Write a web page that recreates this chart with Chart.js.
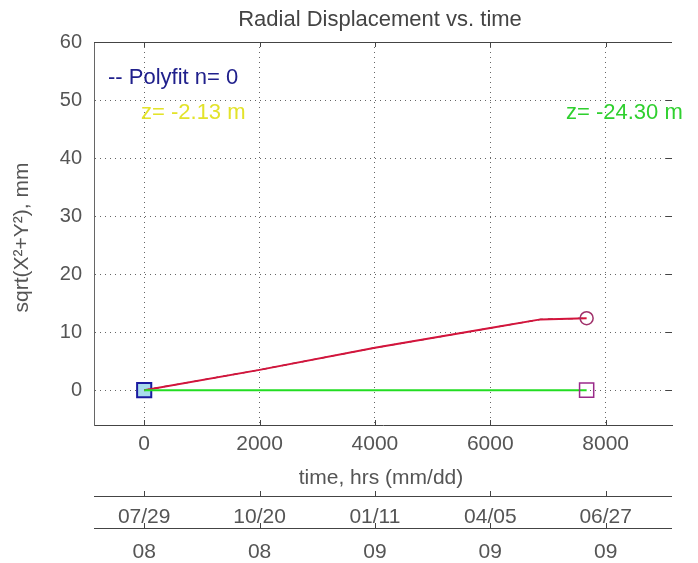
<!DOCTYPE html>
<html>
<head>
<meta charset="utf-8">
<script src="https://cdn.jsdelivr.net/npm/chart.js@4.4.0/dist/chart.umd.min.js"></script>
<style>
  html, body { margin: 0; padding: 0; background: #fff; }
  canvas { display: block; }
</style>
</head>
<body>
<canvas id="chart" width="698" height="563"></canvas>
<script>
// values
var radialTimes = [0, 2000, 4000, 6000, 6870, 7670];
var radialValues = [0, 3.5, 7.3, 10.7, 12.2, 12.4];
var flatTimes = [0, 7670];
var flatValues = [0, 0];
var xTickValues = [0, 2000, 4000, 6000, 8000];
var yTickValues = [0, 10, 20, 30, 40, 50, 60];
var dateLabels = ['07/29', '10/20', '01/11', '04/05', '06/27'];
var yearLabels = ['08', '08', '09', '09', '09'];

var FONT = '"Liberation Sans", Arial, sans-serif';
var textColor = '#555';

function pts(xs, ys) {
    var out = [];
    for (var i = 0; i < xs.length; i++) out.push({ x: xs[i], y: ys[i] });
    return out;
}

var extras = {
    id: 'extras',
    afterDraw: function (chart) {
        var ctx = chart.ctx;
        var a = chart.chartArea;
        var xs = chart.scales.x;
        var ys = chart.scales.y;
        ctx.save();

        // title
        ctx.fillStyle = '#444';
        ctx.font = '22px ' + FONT;
        ctx.textAlign = 'center';
        ctx.textBaseline = 'middle';
        ctx.fillText('Radial Displacement vs. time', 380, 20);

        // top box line
        ctx.strokeStyle = '#444';
        ctx.lineWidth = 1;
        ctx.beginPath();
        ctx.moveTo(a.left, a.top + 0.5);
        ctx.lineTo(a.right, a.top + 0.5);
        ctx.stroke();

        // inner tick marks bottom + top, right side
        ctx.beginPath();
        xTickValues.forEach(function (v) {
            var px = Math.round(xs.getPixelForValue(v)) + 0.5;
            ctx.moveTo(px, a.bottom); ctx.lineTo(px, a.bottom - 5);
            ctx.moveTo(px, a.top); ctx.lineTo(px, a.top + 5);
        });
        yTickValues.forEach(function (v) {
            var py = Math.round(ys.getPixelForValue(v)) + 0.5;
            ctx.moveTo(a.right, py); ctx.lineTo(a.right - 6, py);
        });
        ctx.stroke();

        // x label
        ctx.fillStyle = textColor;
        ctx.font = '21px ' + FONT;
        ctx.fillText('time, hrs (mm/dd)', 381, 478);

        // secondary date axes
        function dateAxis(lineY, labelY, labels) {
            ctx.strokeStyle = '#444';
            ctx.beginPath();
            ctx.moveTo(a.left, lineY + 0.5);
            ctx.lineTo(a.right, lineY + 0.5);
            xTickValues.forEach(function (v) {
                var px = Math.round(xs.getPixelForValue(v)) + 0.5;
                ctx.moveTo(px, lineY); ctx.lineTo(px, lineY - 5);
            });
            ctx.stroke();
            ctx.fillStyle = textColor;
            ctx.font = '21px ' + FONT;
            labels.forEach(function (l, i) {
                ctx.fillText(l, xs.getPixelForValue(xTickValues[i]), labelY);
            });
        }
        dateAxis(496, 517, dateLabels);
        dateAxis(528, 552, yearLabels);

        // annotations
        ctx.textAlign = 'left';
        ctx.font = '22px ' + FONT;
        ctx.fillStyle = '#20208c';
        ctx.fillText('-- Polyfit n= 0', 108, 78);
        ctx.fillStyle = '#e3e32a';
        ctx.fillText('z= -2.13 m', 141, 113);
        ctx.fillStyle = '#2fd02f';
        ctx.fillText('z= -24.30 m', 566, 113);

        // y label
        ctx.translate(22, (a.top + a.bottom) / 2 + 4);
        ctx.rotate(-Math.PI / 2);
        ctx.textAlign = 'center';
        ctx.fillStyle = textColor;
        ctx.font = '21px ' + FONT;
        ctx.fillText('sqrt(X\u00B2+Y\u00B2), mm', 0, 0);
        ctx.restore();
    }
};

var ctx = document.getElementById('chart').getContext('2d');
new Chart(ctx, {
    type: 'scatter',
    data: {
        datasets: [
            {
                data: pts(flatTimes, flatValues),
                showLine: true,
                borderColor: '#22dd22',
                borderWidth: 2,
                pointRadius: [0, 10],
                pointStyle: 'rect',
                pointBorderColor: '#9a2a8a',
                pointBackgroundColor: 'rgba(0,0,0,0)',
                pointBorderWidth: 1.5
            },
            {
                data: pts(radialTimes, radialValues),
                showLine: true,
                borderColor: '#d4143c',
                borderWidth: 2,
                pointRadius: [0, 0, 0, 0, 0, 6.5],
                pointStyle: 'circle',
                pointBorderColor: '#a0306a',
                pointBackgroundColor: 'rgba(0,0,0,0)',
                pointBorderWidth: 1.5
            },
            {
                data: pts(radialTimes, radialValues),
                showLine: true,
                borderColor: '#2a0a0a',
                borderWidth: 1.2,
                borderDash: [5, 5],
                pointRadius: 0
            },
            {
                data: pts([radialTimes[0]], [radialValues[0]]),
                pointStyle: 'rect',
                pointRadius: 10,
                pointBorderColor: '#1a1aa0',
                pointBackgroundColor: '#a8dcec',
                pointBorderWidth: 2
            }
        ]
    },
    options: {
        responsive: false,
        animation: false,
        layout: { padding: { left: 0, right: 26, top: 42, bottom: 108 } },
        plugins: { legend: { display: false }, tooltip: { enabled: false } },
        scales: {
            x: {
                type: 'linear',
                min: -870,
                max: 9150,
                afterFit: function (s) { s.height = 30; },
                afterBuildTicks: function (s) {
                    s.ticks = xTickValues.map(function (v) { return { value: v }; });
                },
                ticks: {
                    maxRotation: 0,
                    padding: 7,
                    color: textColor,
                    font: { family: FONT, size: 21 },
                    callback: function (v) { return String(v); }
                },
                grid: { color: '#666', drawTicks: false },
                border: { color: '#444', dash: [1, 4], display: true }
            },
            y: {
                min: -6,
                max: 60,
                afterFit: function (s) { s.width = 94; },
                afterBuildTicks: function (s) {
                    s.ticks = yTickValues.map(function (v) { return { value: v }; });
                },
                ticks: {
                    padding: 12,
                    color: textColor,
                    font: { family: FONT, size: 20 }
                },
                grid: { color: '#666', drawTicks: false },
                border: { color: '#666', dash: [1, 4] }
            }
        }
    },
    plugins: [extras]
});
</script>
</body>
</html>
